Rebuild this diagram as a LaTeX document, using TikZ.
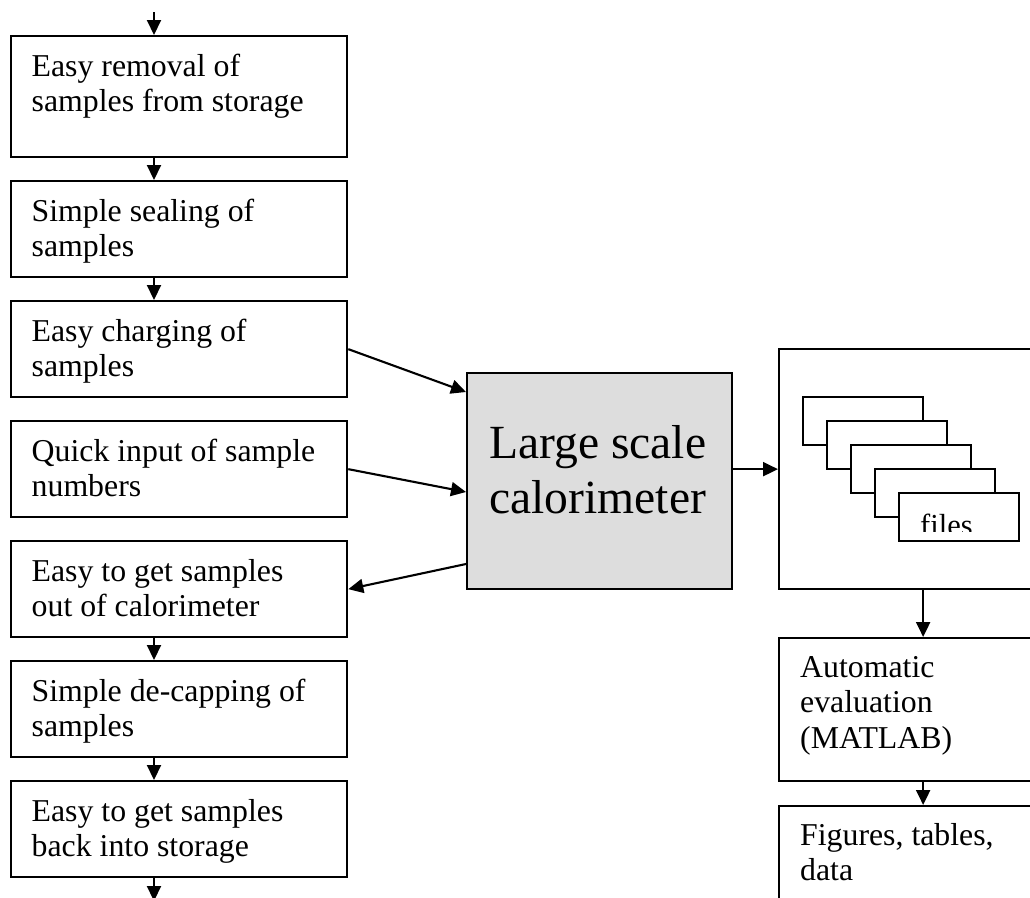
\documentclass[tikz,border=0pt]{standalone}
\usepackage{fontspec}
\setmainfont{Liberation Serif}
\usetikzlibrary{arrows.meta,calc}
\definecolor{calgray}{RGB}{221,221,221}
\begin{document}
\begin{tikzpicture}[x=1pt,y=-1pt,
  box/.style={draw,line width=2.3pt,minimum width=336.5pt,minimum height=#1,anchor=north west,inner sep=0pt},
  rbox/.style={draw,line width=2.3pt,minimum width=288pt,minimum height=#1,anchor=north west,inner sep=0pt},
  filebox/.style={draw,fill=white,line width=2.3pt,minimum width=120pt,minimum height=48pt,anchor=north west,inner sep=0pt},
  arr/.style={-{Triangle[length=15pt,width=14pt]},line width=2.1pt},
  lbl/.style={anchor=base west,align=left,inner sep=0pt,font=\fontsize{31.8}{35.5}\selectfont},
  biglbl/.style={anchor=base,align=center,inner sep=0pt,font=\fontsize{47.6}{54.7}\selectfont}]
\useasboundingbox (0,0) rectangle (1030,897);
\clip (0,0) rectangle (1030,897);

% left column
\node[box=120.5pt] (b1) at (9.5,35) {};
\node[box=96pt] (b2) at (9.5,180) {};
\node[box=96pt] (b3) at (9.5,300) {};
\node[box=96pt] (b4) at (9.5,420) {};
\node[box=96pt] (b5) at (9.5,540) {};
\node[box=96pt] (b6) at (9.5,660) {};
\node[box=96pt] (b7) at (9.5,780) {};

% (anchor base = baseline of the last line)
\node[lbl] (t1) at ($(b1.north west)+(22,76.5)$) {Easy removal of\\samples from storage};
\node[lbl] (t2) at ($(b2.north west)+(22,76.5)$) {Simple sealing of\\samples};
\node[lbl] (t3) at ($(b3.north west)+(22,76.5)$) {Easy charging of\\samples};
\node[lbl] (t4) at ($(b4.north west)+(22,76.5)$) {Quick input of sample\\numbers};
\node[lbl] (t5) at ($(b5.north west)+(22,76.5)$) {Easy to get samples\\out of calorimeter};
\node[lbl] (t6) at ($(b6.north west)+(22,76.5)$) {Simple de-capping of\\samples};
\node[lbl] (t7) at ($(b7.north west)+(22,76.5)$) {Easy to get samples\\back into storage};

% calorimeter
\node[draw,fill=calgray,line width=2.3pt,minimum width=265pt,minimum height=216pt,anchor=north west,inner sep=0pt] (cal) at (466,372) {};
\node[biglbl] (calt) at ($(cal.north)+(-2,141)$) {Large scale\\calorimeter};

% right column
\node[rbox=240pt] (big) at (778,348) {};
\node[filebox] (f0) at (802,396) {};
\node[filebox] (f1) at (826,420) {};
\node[filebox] (f2) at (850,444) {};
\node[filebox] (f3) at (874,468) {};
\node[filebox] (f4) at (898,492) {};
\begin{scope}
  \clip (f4.north west) rectangle ($(f4.south east)+(0,-10.5)$);
  \node[lbl,font=\fontsize{30.5}{34}\selectfont] (ft) at ($(f4.north west)+(22,43)$) {files};
\end{scope}

\node[rbox=143pt] (auto) at (778,637) {};
\node[rbox=140pt] (fig) at (778,805) {};
\node[lbl] (ta) at ($(auto.north west)+(22,111)$) {Automatic\\evaluation\\(MATLAB)};
\node[lbl] (tf) at ($(fig.north west)+(22,75.5)$) {Figures, tables,\\data};

% arrows
\coordinate (top) at (154,12);
\coordinate (bot) at (154,901);
\draw[arr] (top) -- (top |- b1.north);
\draw[arr] (b1.south -| top) -- (b2.north -| top);
\draw[arr] (b2.south -| top) -- (b3.north -| top);
\draw[arr] (b5.south -| top) -- (b6.north -| top);
\draw[arr] (b6.south -| top) -- (b7.north -| top);
\draw[arr] (b7.south -| top) -- (bot);

\draw[arr] (b3.east) -- ($(cal.north west)+(0,20)$);
\draw[arr] (b4.east) -- ($(cal.north west)+(0,120)$);
\draw[arr] ($(cal.north west)+(0,192)$) -- (b5.east);
\draw[arr] (cal.east |- big.west) -- (big.west);
\draw[arr] (big.south) -- (auto.north);
\draw[arr] (auto.south) -- (fig.north);
\end{tikzpicture}
\end{document}
